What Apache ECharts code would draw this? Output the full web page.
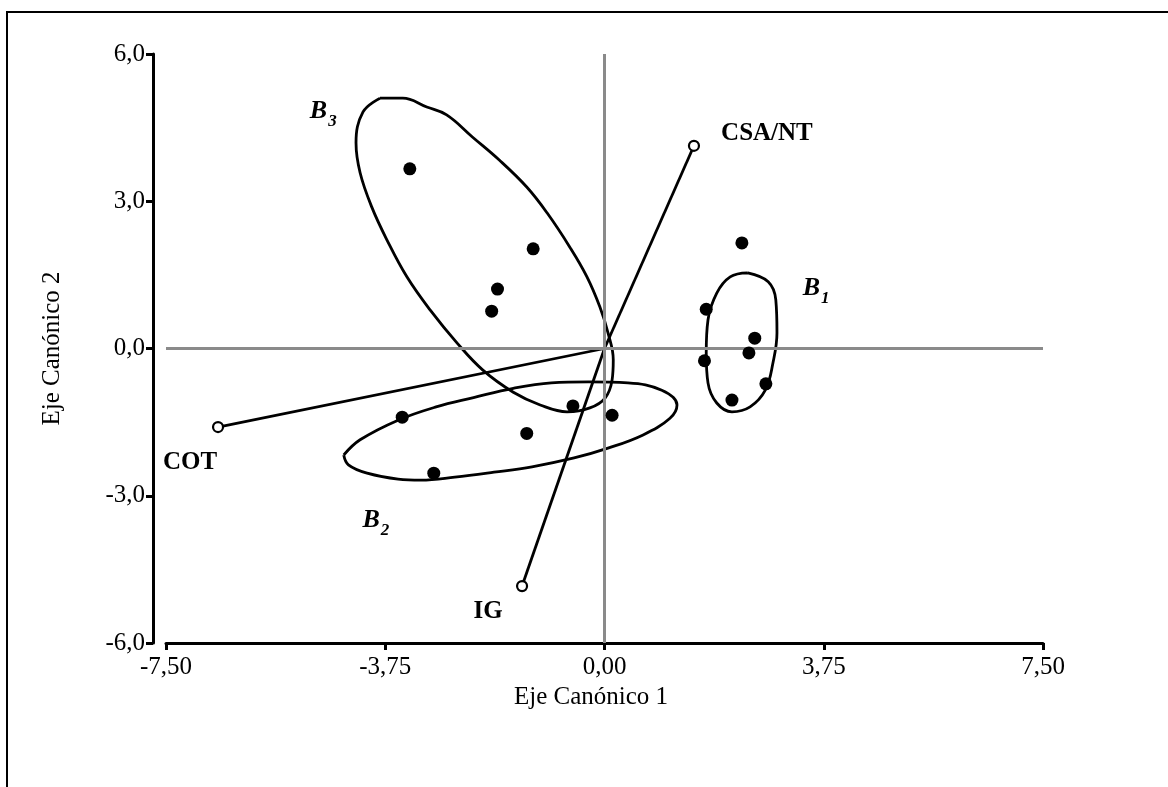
<!DOCTYPE html>
<html>
<head>
<meta charset="utf-8">
<script src="https://cdn.jsdelivr.net/npm/echarts@6/dist/echarts.min.js"></script>
<style>
  html, body { margin: 0; padding: 0; background: #fff; }
  #chart { width: 1168px; height: 787px; }
</style>
</head>
<body>
<div id="chart"></div>
<script>
// Canonical scores of the sites (filled dots)
const siteScores = [
  [-3.33, 3.66], [-1.22, 2.03], [-1.83, 1.21], [-1.93, 0.76],
  [-3.46, -1.40], [-2.92, -2.54], [-1.33, -1.73], [-0.54, -1.17], [0.13, -1.36],
  [2.35, 2.15], [1.74, 0.80], [1.71, -0.25], [2.47, -0.09], [2.57, 0.21],
  [2.76, -0.72], [2.18, -1.05]
];

// Environmental variable vectors (from the origin to the open circle)
const vectorNames = ['CSA/NT', 'COT', 'IG'];
const vectorEnds = [[1.53, 4.13], [-6.61, -1.60], [-1.41, -4.84]];

// Outlines of the three groups
const outlineB1 = [
  [2.45, 1.54], [2.80, 1.36], [2.93, 0.99], [2.95, 0.32], [2.88, -0.30],
  [2.75, -0.85], [2.49, -1.19], [2.18, -1.29], [1.92, -1.11], [1.77, -0.70],
  [1.74, -0.09], [1.77, 0.58], [1.92, 1.13], [2.15, 1.46], [2.45, 1.54]
];
const outlineB2 = [
  [-4.46, -2.17], [-4.18, -1.86], [-3.53, -1.46], [-2.88, -1.19], [-2.24, -1.00],
  [-1.56, -0.81], [-0.91, -0.70], [-0.27, -0.68], [0.40, -0.70], [0.98, -0.85],
  [1.24, -1.15], [1.12, -1.42], [0.66, -1.76], [0.06, -2.03], [-0.52, -2.23],
  [-1.24, -2.41], [-1.89, -2.52], [-2.56, -2.62], [-3.14, -2.68], [-3.53, -2.66],
  [-4.06, -2.54], [-4.38, -2.37], [-4.46, -2.17]
];
const outlineB3 = [
  [-3.84, 5.10], [-3.45, 5.10], [-3.04, 4.92], [-2.70, 4.76], [-2.26, 4.31],
  [-1.80, 3.84], [-1.33, 3.29], [-0.98, 2.76], [-0.59, 2.06], [-0.30, 1.46],
  [-0.08, 0.85], [0.06, 0.32], [0.15, -0.23], [0.13, -0.64], [0.01, -1.01],
  [-0.25, -1.21], [-0.64, -1.29], [-1.10, -1.15], [-1.56, -0.89], [-2.08, -0.44],
  [-2.52, 0.11], [-2.98, 0.78], [-3.38, 1.46], [-3.72, 2.21], [-3.98, 2.88],
  [-4.18, 3.58], [-4.25, 4.19], [-4.13, 4.82], [-3.84, 5.10]
];

// Group names and where they are written
const groupNames = ['1', '2', '3'];
const groupLabelAt = [[3.62, 1.25], [-3.91, -3.47], [-4.81, 4.86]];

// Axis ticks
const xTicks = [-7.5, -3.75, 0, 3.75, 7.5];
const yTicks = [-6, -3, 0, 3, 6];

const FONT = "'Liberation Serif', 'Times New Roman', serif";
const INK = '#000';

// label placement for each vector tip, in pixels
const vectorLabelShift = [[73, -12], [-28, 36], [-34, 25]];

const chart = echarts.init(document.getElementById('chart'), null, { renderer: 'canvas' });

const outlineSeries = [outlineB1, outlineB2, outlineB3].map(pts => ({
  type: 'line',
  data: pts,
  smooth: 0.4,
  showSymbol: false,
  symbol: 'none',
  silent: true,
  lineStyle: { color: INK, width: 2.8, opacity: 1 },
  z: 3
}));

const vectorLineSeries = vectorEnds.map(end => ({
  type: 'line',
  data: [[0, 0], end],
  showSymbol: false,
  symbol: 'none',
  silent: true,
  lineStyle: { color: INK, width: 2.8, opacity: 1 },
  z: 4
}));

chart.setOption({
  animation: false,
  backgroundColor: '#fff',
  textStyle: { fontFamily: FONT },
  graphic: [{
    type: 'rect',
    shape: { x: 7, y: 12, width: 1200, height: 820 },
    style: { fill: 'none', stroke: '#000', lineWidth: 2 },
    silent: true,
    z: -10
  }],
  grid: { left: 166, right: 125, top: 54, bottom: 144, containLabel: false },
  xAxis: {
    type: 'value',
    min: xTicks[0],
    max: xTicks[xTicks.length - 1],
    interval: xTicks[1] - xTicks[0],
    name: 'Eje Canónico 1',
    nameLocation: 'middle',
    nameGap: 38,
    nameTextStyle: { fontFamily: FONT, fontSize: 25, color: INK, padding: [0, 27, 0, 0] },
    axisLine: { onZero: false, lineStyle: { color: INK, width: 3 } },
    axisTick: { show: true, length: 7, lineStyle: { color: INK, width: 3 } },
    axisLabel: {
      fontFamily: FONT, fontSize: 25, color: INK, margin: 12,
      formatter: v => v.toFixed(2).replace('.', ',')
    },
    splitLine: { show: false }
  },
  yAxis: {
    type: 'value',
    min: yTicks[0],
    max: yTicks[yTicks.length - 1],
    interval: yTicks[1] - yTicks[0],
    offset: 13,
    name: 'Eje Canónico 2',
    nameLocation: 'middle',
    nameGap: 88,
    nameTextStyle: { fontFamily: FONT, fontSize: 25, color: INK },
    axisLine: { onZero: false, lineStyle: { color: INK, width: 3 } },
    axisTick: { show: true, length: 7, lineStyle: { color: INK, width: 3 } },
    axisLabel: {
      fontFamily: FONT, fontSize: 25, color: INK, margin: 8,
      formatter: v => v.toFixed(1).replace('.', ',')
    },
    splitLine: { show: false }
  },
  series: [
    {
      // origin cross
      type: 'line',
      data: [],
      silent: true,
      markLine: {
        silent: true,
        symbol: 'none',
        label: { show: false },
        lineStyle: { color: '#8a8a8a', width: 3, type: 'solid', opacity: 1 },
        data: [{ xAxis: 0 }, { yAxis: 0 }]
      },
      z: 1
    },
    ...outlineSeries,
    ...vectorLineSeries,
    {
      type: 'scatter',
      data: siteScores,
      symbol: 'circle',
      symbolSize: 13,
      itemStyle: { color: INK, opacity: 1 },
      silent: true,
      z: 5
    },
    {
      type: 'scatter',
      data: vectorEnds.map((p, i) => ({
        value: p,
        name: vectorNames[i],
        label: { offset: vectorLabelShift[i] }
      })),
      symbol: 'circle',
      symbolSize: 10,
      itemStyle: { color: '#fff', borderColor: INK, borderWidth: 2.2, opacity: 1 },
      label: {
        show: true,
        position: 'inside',
        formatter: '{b}',
        fontFamily: FONT,
        fontSize: 25,
        fontWeight: 'bold',
        color: INK,
        opacity: 1
      },
      silent: true,
      z: 6
    },
    {
      type: 'scatter',
      data: groupLabelAt.map((p, i) => ({ value: p, name: groupNames[i] })),
      symbolSize: 0,
      silent: true,
      itemStyle: { opacity: 1 },
      label: {
        show: true,
        position: 'inside',
        opacity: 1,
        formatter: p => '{b|B}{s|' + p.name + '}',
        rich: {
          b: { fontFamily: FONT, fontSize: 26, fontWeight: 'bold', fontStyle: 'italic', color: INK, verticalAlign: 'bottom', lineHeight: 28 },
          s: { fontFamily: FONT, fontSize: 17, fontWeight: 'bold', fontStyle: 'italic', color: INK, verticalAlign: 'bottom', lineHeight: 20, padding: [0, 0, -6, 1] }
        }
      },
      z: 6
    }
  ]
});
</script>
</body>
</html>
